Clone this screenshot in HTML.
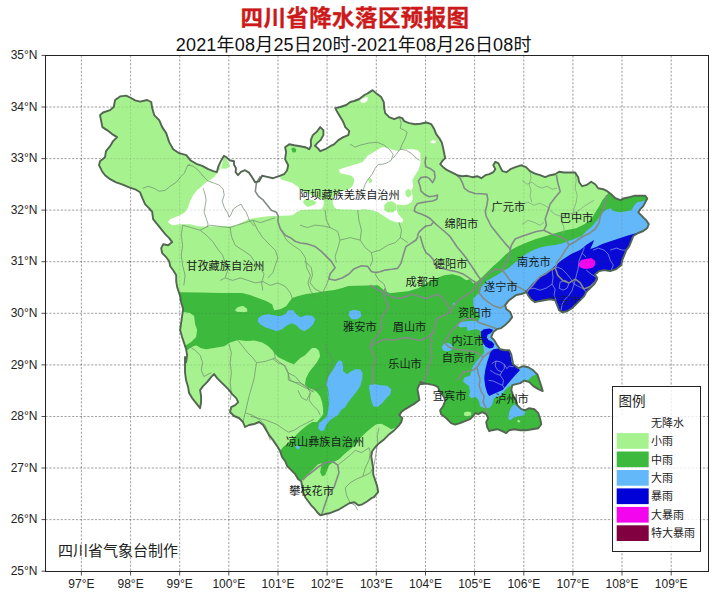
<!DOCTYPE html>
<html lang="zh"><head><meta charset="utf-8"><title>四川省降水落区预报图</title>
<style>
html,body{margin:0;padding:0;background:#fff}
body{width:718px;height:610px;position:relative;overflow:hidden;font-family:"Liberation Sans","Noto Sans CJK SC",sans-serif}
.t1{position:absolute;left:0;top:4.8px;width:710px;text-align:center;font-size:22.5px;line-height:28px;font-weight:bold;color:#cc1a1a;-webkit-text-stroke:0.35px #cc1a1a;letter-spacing:0.4px;white-space:nowrap}
.t2{position:absolute;left:0;top:32.8px;width:707.5px;text-align:center;font-size:18px;line-height:24px;color:#111;letter-spacing:0.2px;white-space:nowrap}
</style></head><body>
<svg width="718" height="610" viewBox="0 0 718 610" style="position:absolute;left:0;top:0">
<defs><clipPath id="prov"><path d="M115.1,100 L120.1,96.4 L126.1,95.6 L131.1,98 L135.1,100.4 L140.1,101.6 L147.2,100 L151.2,102 L152.2,108.1 L154.2,115.1 L159.2,120.1 L162.2,127.1 L166.2,133.1 L169.2,142.1 L173.2,149.2 L179.2,153.2 L186.3,155.2 L190.3,160.2 L196.3,163.8 L202.3,165.8 L208.3,169.2 L213.3,171.2 L216.8,172.2 L218.4,166.2 L221.4,160.2 L224,155.8 L226.4,157.2 L229.4,160.2 L234,161.2 L234,164.6 L236,168.2 L235.6,172.2 L238,175.2 L241,171.8 L245,170.2 L249,172.6 L252.1,177.2 L255.1,182.3 L259.1,181.3 L262.1,175.8 L266.1,176.6 L273.1,178.2 L279.1,176.2 L284.1,174.2 L287.1,170.2 L288.2,165.2 L285.1,159.2 L286.1,152.2 L285.1,147.2 L289.2,144.2 L294.2,145.2 L300.2,146.2 L305.2,147.2 L309.2,149.2 L311,145.8 L310.8,140.1 L312.8,135.1 L316.8,131.7 L320.2,127.1 L323.4,130.1 L323.4,135.1 L320.6,140.1 L317.2,143.1 L315,145.8 L318.2,148.6 L320.2,151.2 L325.3,149.2 L330.3,146.2 L334.3,144.2 L338.3,140.1 L343.3,137.1 L348.3,135.1 L349.3,131.1 L345.3,127.1 L343.3,122.1 L340.3,117.1 L337.3,112.1 L335.3,108.1 L340.3,107 L346.3,105 L350.3,102 L354.3,101 L359.3,99 L364.4,95 L368.4,93 L368.1,93.1 L372.5,90.1 L377.2,94.1 L381.2,97.1 L383.8,102.1 L384.2,108.1 L385.2,113.1 L389.2,117.1 L394.2,119.1 L399.2,117.1 L402.2,118.1 L404.2,121.1 L409.2,123.1 L415.3,124.2 L420.3,123.7 L426.3,122.5 L431.3,124.2 L434.2,129.1 L436.2,134.1 L439.2,138.1 L441.8,142.5 L443.2,148.2 L444.2,153.2 L445.2,158.2 L442.2,161.2 L440.2,164.2 L443.2,167.2 L447.2,170.2 L452.2,172.6 L457.2,175.2 L462.2,176.2 L467.2,175.8 L472.3,177.2 L477.3,176.2 L481.3,178.2 L485.3,175.2 L489.3,174.2 L493.3,172.2 L495.3,169.2 L493.3,165.2 L495.3,161.8 L498.3,163.2 L500.3,167.2 L502.3,171.2 L506.4,172.2 L510.4,169.2 L515.4,167.2 L519.4,165.8 L522,165.2 L522,165.7 L526,167.1 L530,171.1 L535,173.7 L540.1,175.2 L545.1,177.2 L550.1,175.2 L555.1,174.2 L559.1,171.7 L564.1,172.5 L570.1,172.5 L575.1,172.5 L578.2,177.2 L579.2,182.2 L582.2,186.2 L586.2,185.2 L591.2,181.8 L595.2,184.2 L598.2,188.2 L603.2,189.2 L607.2,191.2 L611.2,194.2 L615.3,198.2 L620.3,200.2 L624.3,198.2 L629.3,197.2 L634.3,195.8 L640.3,195.8 L645.3,195.8 L647.3,198.6 L645.3,202.2 L643.3,206.2 L640.3,209.2 L638.3,212.3 L642.3,216.3 L646.3,220.3 L648.8,224.3 L648.8,224 L647.3,228 L643.3,231 L638.3,233 L633.3,236 L631.3,241.1 L629.3,246.1 L626.3,250.1 L624.3,255.1 L622.3,260.1 L621.3,265.1 L616.3,269.1 L610.2,271.1 L604.2,270.1 L599.2,271.1 L595.2,274.2 L597.2,279.2 L594.2,284.2 L590.2,288.2 L586.2,292.2 L584.2,296.2 L580.2,300.2 L576.2,304.2 L572.1,308.2 L567.1,311.3 L562.1,312.3 L559.1,310.3 L557.1,305.2 L555.1,300.2 L550.1,299.2 L544.1,300.2 L539,301.2 L535,302.2 L531,299.2 L528,295.2 L526,291.2 L526.3,292.4 L521.3,294 L516.2,295 L512.2,298.1 L508.2,301.1 L505.2,305.1 L506.2,309.1 L510.2,312.1 L512.2,317.1 L509.2,321.1 L505.2,325.1 L501.2,328.1 L497.2,329.1 L493.2,332.1 L491.2,337.2 L494.2,340.2 L497.2,345.2 L500.2,349.2 L505.2,350.2 L509.2,350.2 L511.2,354.2 L512.2,359.2 L513.2,364.2 L518.2,368.2 L523.3,366.2 L528.3,367.2 L533.3,370.3 L537.3,374.3 L537.3,374.1 L539.3,380.1 L541.3,386.1 L542.7,391.1 L538.3,389.1 L533.3,386.1 L529.3,382.1 L524.3,380.5 L520.3,383.1 L516.3,384.1 L512.3,385.1 L511.3,390.1 L513.3,396.1 L516.3,401.1 L517.3,405.2 L521.3,409.2 L525.3,410.2 L529.3,408.2 L534.3,409.2 L538.3,413.2 L540.3,419.2 L541.3,424.2 L538.3,428.2 L532.3,429.2 L526.3,430.2 L520.3,430.2 L514.3,429.2 L509.2,430.2 L506.2,433.2 L502.2,431.2 L497.2,429.2 L492.2,430.2 L489.2,431.2 L487.2,427.2 L486.2,422.2 L488.2,418.2 L486.2,414.2 L482.2,412.2 L478.2,414.2 L475.2,413.2 L473.1,416.2 L470.1,419.2 L465.1,421.2 L460.1,423.2 L455.1,424.6 L451.1,423.2 L448.1,420.2 L445.1,417.2 L441.1,414.2 L440.1,410.2 L443.1,406.2 L445.1,401.1 L444.1,397.1 L441.1,393.1 L439.1,390.1 L438.1,387.1 L434,385.1 L429,384.1 L424,383.1 L420,382.1 L426.4,383.6 L419.4,384.4 L417.4,389.1 L418.4,394.1 L419.4,400.1 L415.3,403.1 L410.3,406.1 L405.3,409.1 L401.3,412.1 L399.3,415.1 L402.3,418.1 L401.3,422.1 L398.3,426.2 L394.3,430.2 L389.3,434.2 L384.3,439.2 L379.2,443.2 L375.2,447.2 L372.2,451.2 L371.2,456.2 L372.2,462.3 L373.2,468.3 L373.2,474.3 L375.2,480.3 L377.2,486.3 L378.2,491.9 L374,497.2 L371.4,498.2 L367.4,501.3 L362.4,504.3 L358.4,505.3 L354.3,502.3 L349.3,503.3 L344.3,506.3 L339.3,509.3 L334.3,511.3 L329.3,513.3 L324.3,514.3 L320.3,515.3 L317.2,512.3 L314.2,508.3 L311.2,505.3 L308.2,501.3 L305.2,497.2 L303.2,492.2 L302.2,486.2 L301.2,481.2 L298.2,479.2 L295.2,474.2 L291.2,470.2 L287.2,466.2 L285.2,461.1 L282.1,457.1 L280.1,451.1 L277.1,446.1 L273.1,440.1 L269.1,435.1 L266.1,430.1 L263.1,425 L259.1,422 L254.1,424 L249.1,425 L245,427 L243,422 L239,418 L234,416 L230,412 L231.2,407.2 L235.2,405.2 L238.2,402.1 L236.2,398.1 L232.2,394.1 L229.2,390.1 L225.2,386.1 L221.1,382.1 L217.1,378.1 L214.1,374.1 L211.1,377.1 L207.1,382.1 L203.1,386.1 L200.1,390.1 L201.1,396.1 L201.1,402.1 L200.1,408.2 L196.1,403.1 L192.1,398.1 L189.1,393.1 L188.1,387.1 L186,380.1 L185,372.1 L185,364 L185,357 L186.1,362.2 L187.1,355.2 L186.1,349.2 L184.1,343.1 L182.1,337.1 L180.1,330.1 L181.1,323.1 L182.1,316.1 L183.1,309.1 L181.1,302 L180.1,296 L178.1,290 L177.2,287.3 L176.2,281.3 L176.2,275.2 L173.2,270.2 L170.2,266.2 L169.2,261.2 L166.2,257.2 L162.2,253.2 L161.2,248.2 L163.2,244.2 L168.2,245.2 L172.2,242.1 L169.2,238.1 L165.2,234.1 L161.2,229.1 L157.2,224.1 L153.1,219.1 L152.2,211.9 L149.2,208.3 L145.2,204.3 L142.5,198.3 L140.1,192.3 L135.1,189.3 L129.1,187.3 L122.1,184.3 L116.1,182.3 L110.1,179.2 L105,175.2 L102,171.2 L99,165.2 L100,161.2 L105,157.2 L106,151.2 L110.1,146.2 L113.1,141.1 L117.1,137.1 L112.1,134.1 L107,130.1 L102.4,127.1 L101,120.1 L100,115.1 L103,112.5 L110.1,110.1 L113.7,107Z"/></clipPath><clipPath id="ax"><rect x="45.5" y="55.5" width="663.0" height="516.0"/></clipPath></defs>
<path d="M81.4,55.5 V571.5 M130.6,55.5 V571.5 M179.7,55.5 V571.5 M228.8,55.5 V571.5 M278.0,55.5 V571.5 M327.1,55.5 V571.5 M376.3,55.5 V571.5 M425.5,55.5 V571.5 M474.6,55.5 V571.5 M523.8,55.5 V571.5 M572.9,55.5 V571.5 M622.0,55.5 V571.5 M671.2,55.5 V571.5 M45.5,519.6 H708.5 M45.5,468.0 H708.5 M45.5,416.5 H708.5 M45.5,364.9 H708.5 M45.5,313.3 H708.5 M45.5,261.7 H708.5 M45.5,210.1 H708.5 M45.5,158.6 H708.5 M45.5,107.0 H708.5" fill="none" stroke="#555" stroke-opacity="0.62" stroke-width="0.7" stroke-dasharray="2.2,1.6"/>
<path d="M115.1,100 L120.1,96.4 L126.1,95.6 L131.1,98 L135.1,100.4 L140.1,101.6 L147.2,100 L151.2,102 L152.2,108.1 L154.2,115.1 L159.2,120.1 L162.2,127.1 L166.2,133.1 L169.2,142.1 L173.2,149.2 L179.2,153.2 L186.3,155.2 L190.3,160.2 L196.3,163.8 L202.3,165.8 L208.3,169.2 L213.3,171.2 L216.8,172.2 L218.4,166.2 L221.4,160.2 L224,155.8 L226.4,157.2 L229.4,160.2 L234,161.2 L234,164.6 L236,168.2 L235.6,172.2 L238,175.2 L241,171.8 L245,170.2 L249,172.6 L252.1,177.2 L255.1,182.3 L259.1,181.3 L262.1,175.8 L266.1,176.6 L273.1,178.2 L279.1,176.2 L284.1,174.2 L287.1,170.2 L288.2,165.2 L285.1,159.2 L286.1,152.2 L285.1,147.2 L289.2,144.2 L294.2,145.2 L300.2,146.2 L305.2,147.2 L309.2,149.2 L311,145.8 L310.8,140.1 L312.8,135.1 L316.8,131.7 L320.2,127.1 L323.4,130.1 L323.4,135.1 L320.6,140.1 L317.2,143.1 L315,145.8 L318.2,148.6 L320.2,151.2 L325.3,149.2 L330.3,146.2 L334.3,144.2 L338.3,140.1 L343.3,137.1 L348.3,135.1 L349.3,131.1 L345.3,127.1 L343.3,122.1 L340.3,117.1 L337.3,112.1 L335.3,108.1 L340.3,107 L346.3,105 L350.3,102 L354.3,101 L359.3,99 L364.4,95 L368.4,93 L368.1,93.1 L372.5,90.1 L377.2,94.1 L381.2,97.1 L383.8,102.1 L384.2,108.1 L385.2,113.1 L389.2,117.1 L394.2,119.1 L399.2,117.1 L402.2,118.1 L404.2,121.1 L409.2,123.1 L415.3,124.2 L420.3,123.7 L426.3,122.5 L431.3,124.2 L434.2,129.1 L436.2,134.1 L439.2,138.1 L441.8,142.5 L443.2,148.2 L444.2,153.2 L445.2,158.2 L442.2,161.2 L440.2,164.2 L443.2,167.2 L447.2,170.2 L452.2,172.6 L457.2,175.2 L462.2,176.2 L467.2,175.8 L472.3,177.2 L477.3,176.2 L481.3,178.2 L485.3,175.2 L489.3,174.2 L493.3,172.2 L495.3,169.2 L493.3,165.2 L495.3,161.8 L498.3,163.2 L500.3,167.2 L502.3,171.2 L506.4,172.2 L510.4,169.2 L515.4,167.2 L519.4,165.8 L522,165.2 L522,165.7 L526,167.1 L530,171.1 L535,173.7 L540.1,175.2 L545.1,177.2 L550.1,175.2 L555.1,174.2 L559.1,171.7 L564.1,172.5 L570.1,172.5 L575.1,172.5 L578.2,177.2 L579.2,182.2 L582.2,186.2 L586.2,185.2 L591.2,181.8 L595.2,184.2 L598.2,188.2 L603.2,189.2 L607.2,191.2 L611.2,194.2 L615.3,198.2 L620.3,200.2 L624.3,198.2 L629.3,197.2 L634.3,195.8 L640.3,195.8 L645.3,195.8 L647.3,198.6 L645.3,202.2 L643.3,206.2 L640.3,209.2 L638.3,212.3 L642.3,216.3 L646.3,220.3 L648.8,224.3 L648.8,224 L647.3,228 L643.3,231 L638.3,233 L633.3,236 L631.3,241.1 L629.3,246.1 L626.3,250.1 L624.3,255.1 L622.3,260.1 L621.3,265.1 L616.3,269.1 L610.2,271.1 L604.2,270.1 L599.2,271.1 L595.2,274.2 L597.2,279.2 L594.2,284.2 L590.2,288.2 L586.2,292.2 L584.2,296.2 L580.2,300.2 L576.2,304.2 L572.1,308.2 L567.1,311.3 L562.1,312.3 L559.1,310.3 L557.1,305.2 L555.1,300.2 L550.1,299.2 L544.1,300.2 L539,301.2 L535,302.2 L531,299.2 L528,295.2 L526,291.2 L526.3,292.4 L521.3,294 L516.2,295 L512.2,298.1 L508.2,301.1 L505.2,305.1 L506.2,309.1 L510.2,312.1 L512.2,317.1 L509.2,321.1 L505.2,325.1 L501.2,328.1 L497.2,329.1 L493.2,332.1 L491.2,337.2 L494.2,340.2 L497.2,345.2 L500.2,349.2 L505.2,350.2 L509.2,350.2 L511.2,354.2 L512.2,359.2 L513.2,364.2 L518.2,368.2 L523.3,366.2 L528.3,367.2 L533.3,370.3 L537.3,374.3 L537.3,374.1 L539.3,380.1 L541.3,386.1 L542.7,391.1 L538.3,389.1 L533.3,386.1 L529.3,382.1 L524.3,380.5 L520.3,383.1 L516.3,384.1 L512.3,385.1 L511.3,390.1 L513.3,396.1 L516.3,401.1 L517.3,405.2 L521.3,409.2 L525.3,410.2 L529.3,408.2 L534.3,409.2 L538.3,413.2 L540.3,419.2 L541.3,424.2 L538.3,428.2 L532.3,429.2 L526.3,430.2 L520.3,430.2 L514.3,429.2 L509.2,430.2 L506.2,433.2 L502.2,431.2 L497.2,429.2 L492.2,430.2 L489.2,431.2 L487.2,427.2 L486.2,422.2 L488.2,418.2 L486.2,414.2 L482.2,412.2 L478.2,414.2 L475.2,413.2 L473.1,416.2 L470.1,419.2 L465.1,421.2 L460.1,423.2 L455.1,424.6 L451.1,423.2 L448.1,420.2 L445.1,417.2 L441.1,414.2 L440.1,410.2 L443.1,406.2 L445.1,401.1 L444.1,397.1 L441.1,393.1 L439.1,390.1 L438.1,387.1 L434,385.1 L429,384.1 L424,383.1 L420,382.1 L426.4,383.6 L419.4,384.4 L417.4,389.1 L418.4,394.1 L419.4,400.1 L415.3,403.1 L410.3,406.1 L405.3,409.1 L401.3,412.1 L399.3,415.1 L402.3,418.1 L401.3,422.1 L398.3,426.2 L394.3,430.2 L389.3,434.2 L384.3,439.2 L379.2,443.2 L375.2,447.2 L372.2,451.2 L371.2,456.2 L372.2,462.3 L373.2,468.3 L373.2,474.3 L375.2,480.3 L377.2,486.3 L378.2,491.9 L374,497.2 L371.4,498.2 L367.4,501.3 L362.4,504.3 L358.4,505.3 L354.3,502.3 L349.3,503.3 L344.3,506.3 L339.3,509.3 L334.3,511.3 L329.3,513.3 L324.3,514.3 L320.3,515.3 L317.2,512.3 L314.2,508.3 L311.2,505.3 L308.2,501.3 L305.2,497.2 L303.2,492.2 L302.2,486.2 L301.2,481.2 L298.2,479.2 L295.2,474.2 L291.2,470.2 L287.2,466.2 L285.2,461.1 L282.1,457.1 L280.1,451.1 L277.1,446.1 L273.1,440.1 L269.1,435.1 L266.1,430.1 L263.1,425 L259.1,422 L254.1,424 L249.1,425 L245,427 L243,422 L239,418 L234,416 L230,412 L231.2,407.2 L235.2,405.2 L238.2,402.1 L236.2,398.1 L232.2,394.1 L229.2,390.1 L225.2,386.1 L221.1,382.1 L217.1,378.1 L214.1,374.1 L211.1,377.1 L207.1,382.1 L203.1,386.1 L200.1,390.1 L201.1,396.1 L201.1,402.1 L200.1,408.2 L196.1,403.1 L192.1,398.1 L189.1,393.1 L188.1,387.1 L186,380.1 L185,372.1 L185,364 L185,357 L186.1,362.2 L187.1,355.2 L186.1,349.2 L184.1,343.1 L182.1,337.1 L180.1,330.1 L181.1,323.1 L182.1,316.1 L183.1,309.1 L181.1,302 L180.1,296 L178.1,290 L177.2,287.3 L176.2,281.3 L176.2,275.2 L173.2,270.2 L170.2,266.2 L169.2,261.2 L166.2,257.2 L162.2,253.2 L161.2,248.2 L163.2,244.2 L168.2,245.2 L172.2,242.1 L169.2,238.1 L165.2,234.1 L161.2,229.1 L157.2,224.1 L153.1,219.1 L152.2,211.9 L149.2,208.3 L145.2,204.3 L142.5,198.3 L140.1,192.3 L135.1,189.3 L129.1,187.3 L122.1,184.3 L116.1,182.3 L110.1,179.2 L105,175.2 L102,171.2 L99,165.2 L100,161.2 L105,157.2 L106,151.2 L110.1,146.2 L113.1,141.1 L117.1,137.1 L112.1,134.1 L107,130.1 L102.4,127.1 L101,120.1 L100,115.1 L103,112.5 L110.1,110.1 L113.7,107Z" fill="#a6f28e"/>
<g clip-path="url(#prov)">
<path d="M168,222.2 L170,219.2 L175,217.2 L180.1,215.2 L185.1,212.2 L188.1,207.2 L190.1,201.2 L193.1,195.2 L197.1,190.1 L201.1,187.1 L205.1,183.1 L210.1,180.1 L214.2,177.1 L217.2,173.1 L220.2,169.1 L222,150 L282,150 L280.3,179.1 L286.4,181.1 L292.4,183.1 L298.4,187.1 L300.1,190.1 L311.3,195.1 L323.2,200.1 L323.9,202.6 L323.2,206.4 L321.4,209.5 L311.3,209.5 L301.3,210.1 L297.5,211.4 L292.4,215.2 L284.3,215.8 L276.3,215.8 L268.3,216.2 L260.3,217.2 L254.3,218.2 L248.2,219.2 L242.2,222.2 L236.2,225.2 L228.2,226.2 L218.2,226.2 L208.1,226.6 L198.1,226.2 L190.1,224.2 L180.1,224.2 L172,225.2Z" fill="#ffffff"/>
<path d="M338.9,169.4 L345.2,167.5 L351.4,165.6 L357.7,163.8 L362.7,161.9 L367.2,156.1 L372.2,153.1 L377.2,150.1 L382.3,147 L388.3,148.1 L393.3,150.1 L398.3,151.1 L403.3,149.1 L410.3,149.1 L417.4,150.1 L420.4,153.1 L420.4,158.1 L420.4,164.1 L418.4,170.1 L415.3,175.1 L412.3,180.1 L413.3,186.2 L411.3,190.2 L412.7,196.2 L412.3,201.2 L408.3,204.2 L402.3,205.2 L397.3,204.2 L396.3,208.2 L398.3,214.2 L402.9,219.2 L402.9,222.3 L396.3,222.3 L390.3,220.3 L384.3,216.2 L378.2,212.2 L372.2,210.2 L364.2,209.2 L357.7,210.1 L350.2,209.5 L342.7,209.5 L336.4,208.9 L333.9,206.4 L332.6,202.6 L333,197 L340,192 L349.6,188.8 L352.1,186.3 L354,182.6 L354,178.8 L351.4,175.7 L346.4,174.4 L340.2,173.2 L338.9,170Z" fill="#ffffff"/>
<path d="M360.1,100.1 L363.1,98.1 L368.1,97.1 L367.1,101.1 L364.1,103.1 L361.1,102.5Z" fill="#ffffff"/>
<path d="M430.3,141.2 L433.3,140.2 L436.3,141.2 L435.3,143.2 L431.3,143.2Z" fill="#ffffff"/>
<path d="M221.2,168.6 L224.2,154 L230.2,166.1 L226.2,168.8Z" fill="#a6f28e"/>
<path d="M303.8,200.1 L306.9,198.9 L312.6,200.1 L316.3,202 L315.1,204.5 L311.3,205.8 L307.6,207 L305.1,205.1 L303.2,202.6Z" fill="#a6f28e"/>
<path d="M368.2,179.1 L370.2,177.7 L372.2,179.7 L371.8,182.5 L369.2,183.1Z" fill="#a6f28e"/>
<path d="M405.3,191.2 L408.3,188.8 L411.3,191.2 L411.3,195.2 L408.3,197.6 L405.7,195.8Z" fill="#a6f28e"/>
<path d="M384.3,205.2 L387.3,201.8 L392.3,201.2 L396.3,204.2 L396.3,209.2 L393.3,212.6 L387.3,212.6 L384.3,209.8Z" fill="#a6f28e"/>
<path d="M165,292.3 L179.2,292.3 L200,292.6 L220,293 L234,293.1 L242,293.1 L250,295.1 L258.1,298.1 L266.1,301.1 L272.1,304.2 L274.1,310.2 L280.1,309.2 L286.1,306.2 L289.2,302.1 L292.2,298.1 L298.2,296.1 L306.2,294.1 L314.2,293.1 L326.3,291.1 L334.3,290.1 L342.3,288.1 L348.3,286.1 L356.3,285.7 L378,285.2 L384,290.2 L390,293.2 L398.1,292.2 L408.1,291.2 L418.1,288.2 L428.1,282.2 L436.2,278.2 L444.2,275.2 L452.2,274.2 L460.2,276.2 L466.2,280.2 L470,279.3 L473.3,283.5 L477.5,281 L482.5,276.8 L487.5,271.8 L493.4,265.9 L499.2,260.9 L505.1,255.1 L510.9,250.1 L518.5,245.9 L526.8,242.5 L535.2,239.2 L543.5,236.7 L551.9,234.2 L560.3,231.7 L566.9,230 L576.2,228.3 L584.2,224.3 L590.2,220.3 L594.2,214.3 L599.2,206.2 L602.2,200.2 L608.2,193.2 L610,185 L700,150 L700,480 L405,480 L403,430 L401.3,422.1 L396.3,427.2 L391.3,429.2 L386.3,426.2 L381.3,423.8 L376.2,424.2 L372.2,427.2 L366.2,432.2 L361.2,437.2 L356.2,444.2 L350.2,449.2 L344.2,454.2 L339.1,459.2 L333.1,462.3 L329.1,465.3 L327.1,470.3 L325.1,475.3 L322.1,476.3 L320.1,472.3 L321.1,467.3 L322.1,463.3 L318.1,464.3 L314.1,468.3 L310.1,472.3 L305,477.3 L301,481.3 L298,482.3 L290,480 L270,455 L280.1,451.1 L283.1,447.1 L288.2,443.1 L294.2,437.1 L300.2,431.1 L306.2,426 L312.2,422 L317,421.9 L320.1,418.3 L323.1,414.3 L323.1,408.3 L322.1,402.3 L320.1,396.3 L317,392.3 L313,389.2 L308,388.2 L305,384.2 L306,378.2 L309,372.2 L313,367.2 L317,362.2 L320.1,356.2 L319.1,351.1 L316,348.1 L312,348.1 L309,351.1 L305,355.2 L300,358.2 L294,364.2 L288.4,362.2 L282.4,359.2 L278.4,357.2 L275.4,354.2 L272.3,350.2 L268.3,346.2 L262.3,342.5 L254.3,340.5 L246.3,341.1 L238.2,340.1 L230.2,342.5 L224.2,346.2 L218.2,347.2 L212.2,348.2 L206.2,349.2 L201.1,348.2 L196.1,345.2 L191.1,347.2 L187.1,350.2 L165,352Z" fill="#3db93d"/>
<path d="M291.2,148.6 L293.8,147.4 L296.2,149.2 L295.8,152.2 L292.6,152.6Z" fill="#3db93d"/>
<path d="M610.2,214.7 L613.3,213.9 L616.3,214.7 L615.3,216.7 L611.2,216.7Z" fill="#3db93d"/>
<path d="M175,312.1 L183.1,312.1 L190.1,313.1 L194.1,316.1 L195.1,324.1 L197.1,330.1 L196.1,337.1 L191.1,342.1 L186.1,345.2 L175,346Z" fill="#a6f28e"/>
<path d="M235,310.2 L238,307.2 L242,306.2 L246,308.2 L247.6,311.2 L244,312.2 L239,311.8Z" fill="#a6f28e"/>
<path d="M464.1,412.6 L467.1,411.4 L471.1,412.2 L471.1,415.2 L467.1,416.2 L464.1,415.4Z" fill="#a6f28e"/>
<path d="M517.3,420.6 L518.9,419.8 L520.3,421.2 L519.3,422.6 L517.7,422.2Z" fill="#a6f28e"/>
<path d="M235.2,310.1 L238.2,307 L243.3,306 L247.3,309.1 L246.3,312.1 L241.3,311.1 L237.2,312.1Z" fill="#a6f28e"/>
<path d="M642.3,201.2 L637.3,202.2 L634.3,205.2 L631.3,210.3 L626.3,211.3 L620.3,212.3 L614.3,211.3 L610.2,208.2 L605.2,210.3 L601.2,214.3 L597.2,220.3 L592.2,226.3 L586.2,231.3 L582,235.8 L575.3,238.4 L568.6,240.9 L561.9,243.4 L555.2,245 L546.9,245.9 L540.2,247.5 L533.5,250.1 L526.8,253.4 L520.1,258.4 L515.1,262.6 L509.3,267.6 L503.4,270.9 L498.4,274.3 L492.6,277.6 L486.7,281 L481.7,286.8 L478.4,293.5 L473.3,298.5 L473.4,305 L475.9,310.1 L480.1,316.7 L478.4,320.9 L470.1,320.9 L461.7,321.8 L456.7,324.3 L460.1,327.6 L466.7,326.8 L467.6,331 L471.8,330.1 L476.8,329.3 L480.9,331 L483,345 L484.3,352.7 L480.9,356 L477.6,360.2 L473.4,365.2 L471.8,370.2 L470,376 L465,377 L463,381 L466,384 L469,386 L470,392 L469,396 L471,398 L476,397 L479,401 L480,406 L484,408 L489,408 L492,405 L494,398 L501,395.5 L505.2,390.1 L508.2,387.1 L512.3,385.1 L516.3,384.1 L520.3,383.1 L524.3,380.1 L528.3,380.1 L532.3,376.1 L534.4,375.2 L545,370 L700,370 L700,190Z" fill="#63b8f9"/>
<path d="M258.1,318.2 L262.1,315.2 L268.1,314.2 L274.1,315.2 L280.1,316.2 L285.1,314.2 L288.2,310.2 L293.2,310.2 L296.2,314.2 L300.2,317.2 L306.2,315.2 L312.2,315.8 L315.2,319.2 L313.2,324.2 L309.2,328.2 L304.2,331.2 L300.2,329.2 L296.2,325.2 L292.2,323.2 L287.1,325.2 L282.1,329.2 L277.1,331.2 L271.1,329.2 L265.1,327.2 L260.1,324.2 L257.7,321.2Z" fill="#63b8f9"/>
<path d="M349.3,311.2 L354.3,309.8 L360.4,311.2 L361.4,316.2 L357.3,319.2 L351.3,319.2 L348.7,315.2Z" fill="#63b8f9"/>
<path d="M339.1,360.2 L342.1,361.2 L343.1,366.2 L343.1,371.2 L347.1,374.2 L351.1,371.2 L355.2,369.2 L360.2,369.2 L362.6,373.2 L362.2,379.2 L360.2,386.2 L356.2,392.3 L352.1,397.3 L348.1,402.3 L345.1,407.3 L341.1,410.1 L338.1,415.1 L333.1,418.1 L329.1,421.1 L326.1,425.2 L324.1,430.2 L321.1,431.2 L318.1,428.2 L319.1,423.1 L323.1,420.1 L327.1,416.1 L328.1,410.1 L329.1,404.1 L328.1,398.1 L327.1,392.1 L326.1,386 L330.1,403.3 L329.1,396.3 L328.1,389.2 L326.1,383.2 L328.1,377.2 L332.1,371.2 L335.1,366.2 L337.1,362.2Z" fill="#63b8f9"/>
<path d="M369.2,385.2 L373.2,383.8 L380.2,385.2 L387.2,385.8 L391.3,389.2 L390.3,394.3 L386.2,398.3 L382.2,403.3 L377.2,407.3 L373.2,406.3 L371.2,400.3 L370.2,394.3 L369.2,389.2Z" fill="#63b8f9"/>
<path d="M295,446.2 L299,445.8 L300,448.2 L297,449.2Z" fill="#63b8f9"/>
<path d="M441.7,346.8 L444.2,343.8 L448.4,343.1 L451.7,344.8 L453,347.7 L450.9,350.5 L446.7,351.5 L443,350.2Z" fill="#63b8f9"/>
<path d="M452.5,303.4 L455,302.5 L455.9,305 L453.4,305.9Z" fill="#63b8f9"/>
<path d="M508.2,419.2 L509.2,412.2 L511.3,407.2 L514.3,404.2 L518.3,407.2 L522.3,410.2 L525.3,412.2 L524.3,415.2 L518.3,416.2 L513.3,417.8 L510.3,420.2Z" fill="#63b8f9"/>
<path d="M488.1,342.1 L490.1,341.5 L491.5,343.8 L490.1,345.5 L488.1,344.5Z" fill="#63b8f9"/>
<path d="M526,291 L530.2,286 L534.3,281.8 L538.5,278.5 L543.5,274.3 L547.7,271.8 L551.9,268.4 L556.9,264.3 L561.9,260.1 L566.9,256.7 L572.1,253.4 L580.2,250.1 L586.2,245.1 L591.2,241.7 L594.2,240.1 L592.2,245.1 L590.2,249.1 L596.2,247.1 L602.2,244.1 L608.2,242.1 L614.3,240.1 L620.3,238.1 L626.3,236 L631.3,234.4 L640,232 L660,240 L660,330 L520,330Z" fill="#0a0ad6"/>
<path d="M490.1,351.8 L493.5,349.3 L498.5,348.5 L503.5,348.8 L508.5,349.3 L510.2,353.5 L511,358.5 L511.9,363.5 L515.2,366 L518.6,368.6 L519.9,370.2 L515.2,375.2 L510.2,381.1 L505.2,386.9 L502.7,389.9 L491.2,395.1 L489.2,396.1 L487.2,393.1 L485.2,386.1 L484.2,378.1 L485.2,370.1 L487.2,362 L489.2,356Z" fill="#0a0ad6"/>
<path d="M480.9,331.8 L483.8,329.3 L489.3,328.4 L493.1,329.8 L491,333.1 L487.6,334.8 L486.8,337.6 L488.5,340.1 L491.8,341.5 L494.3,344.3 L493.1,347.7 L489.3,348.5 L485.5,346.5 L482.8,342.6 L481.1,337.6Z" fill="#0a0ad6"/>
<path d="M579.2,263.1 L581.2,260.1 L586.2,259.1 L591.2,258.1 L595.2,261.1 L595.2,265.1 L592.2,268.1 L586.2,269.1 L581.2,268.1 L578.6,265.7Z" fill="#f305ee"/>
</g>
<path d="M142.5,188.3 L148.2,186.3 L154.2,188.3 L159.2,191.3 L165.2,190.3 L170.2,186.3 L176.2,182.3 L181.3,176.2 L184.3,173.2 L187.3,166.2 L190.3,164.2" fill="none" stroke="#6f8a6f" stroke-width="0.7" stroke-linejoin="round"/>
<path d="M187.1,165.1 L193.1,166.1 L198.1,170.1 L203.1,176.1 L208.1,181.1 L214.2,183.1 L219.2,185.1 L223.2,189.1 L224.2,195.2 L222.2,201.2 L224.2,207.2 L227.2,212.2 L229.2,217.2 L231.2,214.2 L233.2,209.2 L237.2,206.2 L241.2,204.2 L243.2,208.2 L246.2,212.2 L248.2,217.2 L249.2,220.2 L254.3,226.2" fill="none" stroke="#6f8a6f" stroke-width="0.7" stroke-linejoin="round"/>
<path d="M203.1,188.1 L205.1,194.2 L206.1,200.2 L205.1,206.2 L204.1,212.2 L206.1,218.2 L208.1,224.2 L207.1,227.2" fill="none" stroke="#6f8a6f" stroke-width="0.7" stroke-linejoin="round"/>
<path d="M182.6,225.2 L191.4,227.7 L200.1,230.2 L206.4,235.2 L212.7,241.5 L217.7,249 L222.7,255.3 L225.2,262.8 L227.7,270.3 L225.2,277.9 L220.2,280.4" fill="none" stroke="#6f8a6f" stroke-width="0.7" stroke-linejoin="round"/>
<path d="M200.1,230.2 L210.2,225.2 L220.2,226.5 L230.2,227.7 L236.5,225.2 L245.3,222.7 L252.8,220.2 L260.3,222.7 L267.8,220.2 L275.3,217.7" fill="none" stroke="#6f8a6f" stroke-width="0.7" stroke-linejoin="round"/>
<path d="M230.2,227.7 L231.5,236.5 L235.2,245.3 L242.8,250.3 L250.3,255.3 L255.3,262.8 L260.3,267.8 L264.1,274.1 L261.6,282.9 L262.8,290.4" fill="none" stroke="#6f8a6f" stroke-width="0.7" stroke-linejoin="round"/>
<path d="M252.8,220.2 L257.8,230.2 L262.8,237.7 L270.3,245.3 L275.3,250.3 L277.9,257.8 L275.3,265.3 L272.8,272.8 L267.8,277.9" fill="none" stroke="#6f8a6f" stroke-width="0.7" stroke-linejoin="round"/>
<path d="M280.4,229 L286.6,240.3 L292.9,245.3 L300.4,250.3 L305.4,257.8 L306.7,267.8 L310.4,275.3 L307.9,282.9 L310.4,290.4 L315.5,297.9" fill="none" stroke="#6f8a6f" stroke-width="0.7" stroke-linejoin="round"/>
<path d="M182.6,225.2 L181.3,235.2 L182.6,245.3 L181.3,255.3 L182.6,265.3 L185.1,275.3 L183.8,285.4" fill="none" stroke="#6f8a6f" stroke-width="0.7" stroke-linejoin="round"/>
<path d="M225.2,277.9 L232.7,280.4 L240.3,277.9 L247.8,280.4 L255.3,282.9 L262.8,281.6 L270.3,285.4 L277.9,282.9 L285.4,286.6 L290.4,292.9 L292.9,300.4" fill="none" stroke="#6f8a6f" stroke-width="0.7" stroke-linejoin="round"/>
<path d="M350.1,144.2 L355.1,147.2 L360.1,145.2 L368.1,143.2 L377.2,142.2 L384.2,145.2 L389.2,149.2 L393.2,154.2 L391.2,160.3 L386.2,163.3 L382.2,164.3 L378.2,164.3 L375.2,168.3 L372.1,174.3 L368.1,179.3 L365.1,184.3 L363.1,190.3" fill="none" stroke="#6f8a6f" stroke-width="0.7" stroke-linejoin="round"/>
<path d="M399.2,117.1 L401.2,123.1 L400.2,128.2 L404.2,130.2 L407.2,132.2 L405.2,138.2 L402.2,144.2 L400.2,149.2 L396.2,154.2 L393.2,158.2" fill="none" stroke="#6f8a6f" stroke-width="0.7" stroke-linejoin="round"/>
<path d="M400.2,149.2 L406.2,150.2 L412.3,154.2 L416.3,158.2 L419.3,160.3" fill="none" stroke="#6f8a6f" stroke-width="0.7" stroke-linejoin="round"/>
<path d="M345.2,487.8 L350.2,482.8 L356.5,479 L362.8,476.5 L370.3,472.8 L374,465.2 L375.3,457.7 L376.5,450.2 L377.8,442.7 L377.3,435.2 L379.1,427.6" fill="none" stroke="#6f8a6f" stroke-width="0.7" stroke-linejoin="round"/>
<path d="M345.2,487.8 L346.5,495.3 L350.2,502.8 L355.2,505.3 L357.7,510.4" fill="none" stroke="#6f8a6f" stroke-width="0.7" stroke-linejoin="round"/>
<path d="M362.8,476.5 L365.3,467.7 L369,460.2 L370.3,452.7 L369,447.7" fill="none" stroke="#6f8a6f" stroke-width="0.7" stroke-linejoin="round"/>
<path d="M337.7,465.2 L344,460.2 L350.2,455.2 L355.2,450.2 L361.5,452.7 L369,447.7" fill="none" stroke="#6f8a6f" stroke-width="0.7" stroke-linejoin="round"/>
<path d="M228.9,343.9 L231.4,352.7 L230.2,362.7 L231.4,372.7 L230.2,382.8 L231.4,392.8 L230.2,400.3" fill="none" stroke="#6f8a6f" stroke-width="0.7" stroke-linejoin="round"/>
<path d="M188.8,346.4 L195.1,350.2 L200.1,355.2 L202.6,362.7 L201.3,370.2 L203.8,376.5 L211.4,372.7" fill="none" stroke="#6f8a6f" stroke-width="0.7" stroke-linejoin="round"/>
<path d="M237.7,340.1 L242.7,346.4 L247.7,352.7 L252.7,357.7 L256.5,362.7" fill="none" stroke="#6f8a6f" stroke-width="0.7" stroke-linejoin="round"/>
<path d="M287.8,372.7 L295.3,376.5 L300.4,382.8 L306.6,386.5 L310.4,392.8 L309.1,400.3 L312.9,405.3 L317.9,410.3 L320.4,415.3" fill="none" stroke="#6f8a6f" stroke-width="0.7" stroke-linejoin="round"/>
<path d="M297.9,390.3 L301.6,397.8 L306.6,400.3 L310.4,392.8" fill="none" stroke="#6f8a6f" stroke-width="0.7" stroke-linejoin="round"/>
<path d="M274,351.4 L275.3,357.7 L272.8,358.9" fill="none" stroke="#6f8a6f" stroke-width="0.7" stroke-linejoin="round"/>
<path d="M245.2,412.8 L252.7,415.3 L260.3,420.4 L265.3,425.4 L267.8,432.9 L270.3,440.4" fill="none" stroke="#6f8a6f" stroke-width="0.7" stroke-linejoin="round"/>
<path d="M242.7,422.9 L245.2,412.8 L249,396.5 L254,379 L256.5,362.7 L265.3,361.4 L272.8,358.9 L277.8,362.7 L284.1,365.2 L287.8,372.7 L290.3,380.2 L297.9,384 L305.4,387.8 L311.6,390.3 L317.9,389 L322.9,386.5 L326.7,382.8 L327.9,375.2 L330.4,367.7 L332.9,361.4 L330.4,355.2 L326.7,350.2 L325.4,343.9" fill="none" stroke="#6f8a6f" stroke-width="0.7" stroke-linejoin="round"/>
<path d="M325.1,210 L326.3,220.1 L330.1,227.6 L337.6,231.3 L340.1,240.1 L337.6,248.9 L335.1,256.4 L336.4,262.7" fill="none" stroke="#6f8a6f" stroke-width="0.7" stroke-linejoin="round"/>
<path d="M357.7,210 L358.9,220.1 L361.4,230.1 L360.2,240.1 L365.2,247.6 L371.4,252.6 L372.7,260.2 L370.2,266.4" fill="none" stroke="#6f8a6f" stroke-width="0.7" stroke-linejoin="round"/>
<path d="M340.1,240.1 L350.1,237.6 L360.2,240.1" fill="none" stroke="#6f8a6f" stroke-width="0.7" stroke-linejoin="round"/>
<path d="M300,225.1 L307.5,227.6 L315,225.1 L325.1,226.3 L330.1,227.6" fill="none" stroke="#6f8a6f" stroke-width="0.7" stroke-linejoin="round"/>
<path d="M371.4,252.6 L380.2,250.1 L387.7,245.1 L395.3,242.6 L400.3,237.6 L401.5,230.1 L399,222.6" fill="none" stroke="#6f8a6f" stroke-width="0.7" stroke-linejoin="round"/>
<path d="M400.3,237.6 L407.8,242.6" fill="none" stroke="#6f8a6f" stroke-width="0.7" stroke-linejoin="round"/>
<path d="M305,261.4 L311.3,267.7 L312.5,275.2 L310,282.7 L315,289 L322.6,292.8 L326.3,285.2 L328.8,279" fill="none" stroke="#6f8a6f" stroke-width="0.7" stroke-linejoin="round"/>
<path d="M375.2,274 L379,280.2 L384,284 L386.5,291.5" fill="none" stroke="#6f8a6f" stroke-width="0.7" stroke-linejoin="round"/>
<path d="M250.2,416.2 L258.2,418.2 L266.3,420.2 L276.3,424.2 L282.3,428.2 L288.3,432.2 L294.3,430.2 L300.4,426.2 L306.4,423.2 L314,419.2" fill="none" stroke="#6f8a6f" stroke-width="0.7" stroke-linejoin="round"/>
<path d="M274.3,358 L279.3,362 L285.3,366 L288.3,373.1 L288.3,380.1 L294.3,382.1 L300.4,383.1 L306.4,387.1 L311.4,391.1 L314,392.1" fill="none" stroke="#6f8a6f" stroke-width="0.7" stroke-linejoin="round"/>
<path d="M575.1,173.1 L576.2,180.2 L575.1,188.2 L577.2,195.2 L576.2,202.2 L574.1,208.2 L573.1,213.3" fill="none" stroke="#86a886" stroke-width="0.8" stroke-linejoin="round"/>
<path d="M522,180.2 L527,184.2 L532,182.2 L537,186.2 L542.1,188.2 L547.1,186.2 L552.1,189.2 L557.1,188.2" fill="none" stroke="#86a886" stroke-width="0.8" stroke-linejoin="round"/>
<path d="M522,204.2 L528,202.2 L534,205.2 L540.1,203.2 L546.1,206.2 L550.1,209.2" fill="none" stroke="#86a886" stroke-width="0.8" stroke-linejoin="round"/>
<path d="M530,171.1 L531,178.2 L529,184.2 L531,190.2 L530,196.2 L532,202.2" fill="none" stroke="#86a886" stroke-width="0.8" stroke-linejoin="round"/>
<path d="M522,224.3 L528,220.3 L534,222.3 L540.1,225.3 L544.1,222.3" fill="none" stroke="#86a886" stroke-width="0.8" stroke-linejoin="round"/>
<path d="M550.1,210.3 L555.1,214.3 L561.1,216.3 L567.1,214.3 L573.1,213.3 L579.2,210.3 L584.2,206.2 L589.2,203.2 L594.2,200.2" fill="none" stroke="#86a886" stroke-width="0.8" stroke-linejoin="round"/>
<path d="M561.1,216.3 L562.1,222.3 L564.1,228.3 L563.1,234.3" fill="none" stroke="#86a886" stroke-width="0.8" stroke-linejoin="round"/>
<path d="M582.2,242.1 L584.2,248.1 L582.2,253.1 L586.2,257.1" fill="none" stroke="#8fa0e8" stroke-width="0.7" stroke-linejoin="round"/>
<path d="M593.2,250.1 L598.2,248.1 L604.2,250.1 L608.2,254.1 L610.2,260.1 L613.3,265.1 L611.2,270.1" fill="none" stroke="#8fa0e8" stroke-width="0.7" stroke-linejoin="round"/>
<path d="M610.2,250.1 L616.3,248.1 L622.3,250.1 L626.3,250.1" fill="none" stroke="#8fa0e8" stroke-width="0.7" stroke-linejoin="round"/>
<path d="M552.1,270.1 L557.1,267.1 L562.1,269.1 L567.1,274.2 L571.1,279.2 L574.1,284.2 L578.2,286.2 L584.2,289.2 L586.2,293.2" fill="none" stroke="#8fa0e8" stroke-width="0.7" stroke-linejoin="round"/>
<path d="M552.1,270.1 L553.1,277.2 L552.1,284.2 L555.1,289.2 L554.1,295.2 L556.1,300.2" fill="none" stroke="#8fa0e8" stroke-width="0.7" stroke-linejoin="round"/>
<path d="M560.1,282.2 L565.1,280.2 L569.1,283.2 L567.1,288.2 L563.1,290.2 L559.1,288.2 L560.1,282.2" fill="none" stroke="#8fa0e8" stroke-width="0.7" stroke-linejoin="round"/>
<path d="M574.1,284.2 L572.1,290.2 L569.1,295.2 L565.1,299.2 L562.1,304.2 L561.1,310.3" fill="none" stroke="#8fa0e8" stroke-width="0.7" stroke-linejoin="round"/>
<path d="M582.2,253.1 L579.2,260.1 L578.2,268.1 L576.2,276.2 L574.1,284.2" fill="none" stroke="#8fa0e8" stroke-width="0.7" stroke-linejoin="round"/>
<path d="M528,289.2 L534,288.2 L540.1,290.2 L546.1,288.2 L552.1,284.2" fill="none" stroke="#8fa0e8" stroke-width="0.7" stroke-linejoin="round"/>
<path d="M586.2,270.1 L591.2,274.2 L596.2,277.2" fill="none" stroke="#8fa0e8" stroke-width="0.7" stroke-linejoin="round"/>
<path d="M491.8,363.5 L496,361 L500.2,361.9 L504.3,364.4 L506.9,368.6 L509.4,366 L513.5,366.9" fill="none" stroke="#8fa0e8" stroke-width="0.7" stroke-linejoin="round"/>
<path d="M496,361 L495.2,366 L497.7,370.2 L501.8,371.9 L504.3,368.6 L504.3,364.4" fill="none" stroke="#8fa0e8" stroke-width="0.7" stroke-linejoin="round"/>
<path d="M490.1,370.2 L495.2,373.6 L500.2,375.2 L501.8,371.9" fill="none" stroke="#8fa0e8" stroke-width="0.7" stroke-linejoin="round"/>
<path d="M500.2,375.2 L503.5,380.3 L502.7,385.3 L505.2,389.9" fill="none" stroke="#8fa0e8" stroke-width="0.7" stroke-linejoin="round"/>
<path d="M488.5,380.3 L493.5,381.1 L498.5,383.6 L502.7,385.3" fill="none" stroke="#8fa0e8" stroke-width="0.7" stroke-linejoin="round"/>
<path d="M260.3,176.3 L256.5,182.6 L255.3,191.4 L258.3,196.2 L263.3,200.2 L267.3,205.2 L271.3,210.2 L276.3,212.2 L278.3,216.2 L277.9,221.4 L280.4,229 L285.4,235.2 L290.4,237.7 L295.4,241.5 L300.4,243 L307.5,243.9 L315,246.4 L321.3,251.4 L326.3,256.4 L331.3,261.4 L335.1,267.7 L330.1,274 L328.8,279 L335.1,280.2 L342.6,277.7 L348.9,274 L353.9,268.9 L361.4,265.7 L367.7,266.4 L371.4,271.4 L375.2,272.6" fill="none" stroke="#828c86" stroke-width="1.6" stroke-linejoin="round"/>
<path d="M375,272.6 L380,271.8 L385,270.1 L391.7,269.3 L397.6,268.4 L400.9,263.4 L402.6,257.6 L404.3,251.7 L405.9,246.7 L411,243.4 L416,240 L418,236.5" fill="none" stroke="#828c86" stroke-width="1.6" stroke-linejoin="round"/>
<path d="M425.9,156.7 L425.1,162.5 L425.9,166.7 L430.1,168.4 L434.3,171.7 L435.1,177.6 L432.6,182.6 L429.3,178.4 L425.9,176.7 L420.9,177.6 L418.4,180.9 L420.1,185.9 L420.9,190.9 L424.3,194.3 L429.3,196.8 L434.3,196 L437.6,195.1 L436.8,199.3 L432.6,201 L426.8,201.8 L421.8,202.6 L417.6,203.5 L415.1,206.8 L414.2,211 L417.6,212.7 L421.8,214.3 L425.9,216 L430.1,218.5 L433.5,221.9 L430.9,225.2 L425.9,226 L422.6,228.6 L419.2,231.9 L417.6,235.2 L418.1,236.6" fill="none" stroke="#828c86" stroke-width="1.6" stroke-linejoin="round"/>
<path d="M456,174.2 L460.2,178.4 L462.7,183.4 L464.4,188.4 L469.4,191.8 L475.2,193.5 L481.1,193.8 L486.9,194.3 L487.8,199.3 L486.9,205.2 L485.3,211 L486.1,216 L488.6,221 L491.1,226 L494.5,230.2 L497.8,234.4 L501.1,238.6 L505.3,243.6 L510,248.6 L510.1,250.3" fill="none" stroke="#828c86" stroke-width="1.6" stroke-linejoin="round"/>
<path d="M556.5,175.1 L557.7,182.6 L560.2,191.4 L555.2,197.6 L550.2,203.9 L547.7,211.4 L545.2,218.9 L546.4,225.2 L543.9,230.2" fill="none" stroke="#828c86" stroke-width="1.6" stroke-linejoin="round"/>
<path d="M510.1,250.3 L511.3,245.3 L515.1,239 L521.4,236.5 L528.9,234 L536.4,231.5 L543.9,230.2" fill="none" stroke="#828c86" stroke-width="1.6" stroke-linejoin="round"/>
<path d="M543.9,230.2 L551.4,234 L560.2,236.5 L566.5,240.2 L569,245.3" fill="none" stroke="#828c86" stroke-width="1.6" stroke-linejoin="round"/>
<path d="M569,245.3 L575.3,241.5 L582.8,236.5 L590.3,232.7 L595.3,229 L599.1,222.7 L600.3,216.4 L602.8,210.2 L605.3,203.9 L606.6,195" fill="none" stroke="#828c86" stroke-width="1.6" stroke-linejoin="round"/>
<path d="M569,245.3 L565.2,250.3 L561.5,256.5 L557.7,261.6 L555.2,267.8" fill="none" stroke="#828c86" stroke-width="1.6" stroke-linejoin="round"/>
<path d="M555.2,267.8 L550.2,270.3 L545.2,274.1 L540.2,276.6 L536.4,280.4 L532.6,285.4 L528.9,289.1 L526.4,292.9" fill="none" stroke="#828c86" stroke-width="1.6" stroke-linejoin="round"/>
<path d="M555.2,267.8 L557.7,275.3 L562.7,280.4 L569,282.9 L575.3,279.1 L580.3,282.9 L584,289.1 L590.3,286.6 L595.3,281.6 L597.8,276.6" fill="none" stroke="#828c86" stroke-width="1.6" stroke-linejoin="round"/>
<path d="M510.1,250.3 L508.8,257.8 L505.1,264.1 L502.6,270.3 L506.3,275.3 L510.1,280.4 L515.1,285.4 L520.1,287.9 L526.4,291.6" fill="none" stroke="#828c86" stroke-width="1.6" stroke-linejoin="round"/>
<path d="M420.1,235.8 L421.8,241.7 L423.5,247.5 L426,252.6 L430.2,255.9 L433.5,260.1 L434.3,264.3 L441,268 L448.6,270.1 L456.9,271.8 L463.6,274.3 L468.6,277.6 L472,280.1 L477,283.5" fill="none" stroke="#828c86" stroke-width="1.6" stroke-linejoin="round"/>
<path d="M433.5,221.9 L438,226 L444,231 L450.2,236.7 L453.6,241.7 L456.9,246.7 L461.1,251.7 L465.3,256.7 L468.6,261.8 L472,266.8 L475.3,271.8 L478.6,276.8 L481.2,280.1" fill="none" stroke="#828c86" stroke-width="1.6" stroke-linejoin="round"/>
<path d="M481.2,280.1 L486,276 L491,272 L496,269 L502.6,270.3" fill="none" stroke="#828c86" stroke-width="1.6" stroke-linejoin="round"/>
<path d="M477,283.5 L481.2,280.1" fill="none" stroke="#828c86" stroke-width="1.6" stroke-linejoin="round"/>
<path d="M477,283.5 L474,289 L470,293 L465,296 L460,299 L456,303 L452,308 L450,314" fill="none" stroke="#828c86" stroke-width="1.6" stroke-linejoin="round"/>
<path d="M370,285.2 L376.7,289.3 L385,293.5 L391.7,296.9 L398.4,298.5 L405.1,296.9 L411.8,294.3 L418.5,296 L425.2,298.5 L430.2,296.9 L436.9,294.3 L441.9,296.9 L445.2,301.9 L448.6,306.9 L450.2,311.9" fill="none" stroke="#828c86" stroke-width="1.6" stroke-linejoin="round"/>
<path d="M505.2,305.1 L500.2,308.1 L494.2,306.1 L488.2,302.1 L483.1,298.1 L479.1,293 L480.1,287 L481.2,280.1" fill="none" stroke="#828c86" stroke-width="1.6" stroke-linejoin="round"/>
<path d="M497.2,329.1 L492.2,327.1 L486.2,325.1 L480.1,323.1 L475.1,320.1 L470.1,318.1 L465.1,319.1 L460.1,322.1 L456.1,326.1 L452.1,330.1" fill="none" stroke="#828c86" stroke-width="1.6" stroke-linejoin="round"/>
<path d="M452.1,330.1 L448.1,336.2 L444,342.2 L449.1,347.2 L456.1,349.2 L464.1,350.2 L472.1,351.2 L478.1,353.2 L483.1,357.2 L487,354 L491,351" fill="none" stroke="#828c86" stroke-width="1.6" stroke-linejoin="round"/>
<path d="M483.1,357.2 L480.1,362.2 L477.1,367.2 L473.1,370.3 L468.1,371.3 L463.1,372.3 L460.1,376.3 L457.1,380.3" fill="none" stroke="#828c86" stroke-width="1.6" stroke-linejoin="round"/>
<path d="M477.1,367.2 L478.1,373.3 L480.1,379.3 L479.1,385.3 L481.1,391.3 L484.2,396.3 L483.1,401.9 L486,408 L488,414" fill="none" stroke="#828c86" stroke-width="1.6" stroke-linejoin="round"/>
<path d="M302.6,480.3 L307.6,475.3 L312.6,471.5 L318.9,466.5 L325.2,462.7 L332.7,461.5 L337.7,465.2 L338.9,472.8 L336.4,480.3 L333.9,487.8 L328.9,492.8 L326.4,500.3 L323.9,507.8 L321.4,515.4" fill="none" stroke="#828c86" stroke-width="1.6" stroke-linejoin="round"/>
<path d="M385.2,288.3 L383.5,295 L386,301.7 L388.5,306.7 L385.2,311.7 L381.8,316.8 L381,323.4 L381.8,328.5 L378.5,333.5 L375.1,338.5 L371.8,341.8 L370.1,346.8 L372.6,351.9 L375.1,356.9 L374.3,363.6 L372.6,370.2 L373.5,376.9 L372.6,385" fill="none" stroke="#828c86" stroke-width="1.6" stroke-linejoin="round"/>
<path d="M370.1,346.8 L375.1,343.5 L380.1,341 L386.8,339.3 L393.5,340.2 L400.2,338.5 L406.9,337.6 L413.6,339.3 L420.3,340.2 L425.3,338.5 L430.3,335.1 L434.5,331.8" fill="none" stroke="#828c86" stroke-width="1.6" stroke-linejoin="round"/>
<path d="M450.2,311.9 L445,315 L437,318.4 L434.5,325.1 L433.6,331.8 L430.3,335.1" fill="none" stroke="#828c86" stroke-width="1.6" stroke-linejoin="round"/>
<path d="M430.3,335.1 L432,341.8 L430.3,348.5 L432,355.2 L430.3,361.9 L427.8,368.6 L426.1,375.3 L423.6,380.3 L421.1,383.6" fill="none" stroke="#828c86" stroke-width="1.6" stroke-linejoin="round"/>
<path d="M115.1,100 L120.1,96.4 L126.1,95.6 L131.1,98 L135.1,100.4 L140.1,101.6 L147.2,100 L151.2,102 L152.2,108.1 L154.2,115.1 L159.2,120.1 L162.2,127.1 L166.2,133.1 L169.2,142.1 L173.2,149.2 L179.2,153.2 L186.3,155.2 L190.3,160.2 L196.3,163.8 L202.3,165.8 L208.3,169.2 L213.3,171.2 L216.8,172.2 L218.4,166.2 L221.4,160.2 L224,155.8 L226.4,157.2 L229.4,160.2 L234,161.2 L234,164.6 L236,168.2 L235.6,172.2 L238,175.2 L241,171.8 L245,170.2 L249,172.6 L252.1,177.2 L255.1,182.3 L259.1,181.3 L262.1,175.8 L266.1,176.6 L273.1,178.2 L279.1,176.2 L284.1,174.2 L287.1,170.2 L288.2,165.2 L285.1,159.2 L286.1,152.2 L285.1,147.2 L289.2,144.2 L294.2,145.2 L300.2,146.2 L305.2,147.2 L309.2,149.2 L311,145.8 L310.8,140.1 L312.8,135.1 L316.8,131.7 L320.2,127.1 L323.4,130.1 L323.4,135.1 L320.6,140.1 L317.2,143.1 L315,145.8 L318.2,148.6 L320.2,151.2 L325.3,149.2 L330.3,146.2 L334.3,144.2 L338.3,140.1 L343.3,137.1 L348.3,135.1 L349.3,131.1 L345.3,127.1 L343.3,122.1 L340.3,117.1 L337.3,112.1 L335.3,108.1 L340.3,107 L346.3,105 L350.3,102 L354.3,101 L359.3,99 L364.4,95 L368.4,93 L368.1,93.1 L372.5,90.1 L377.2,94.1 L381.2,97.1 L383.8,102.1 L384.2,108.1 L385.2,113.1 L389.2,117.1 L394.2,119.1 L399.2,117.1 L402.2,118.1 L404.2,121.1 L409.2,123.1 L415.3,124.2 L420.3,123.7 L426.3,122.5 L431.3,124.2 L434.2,129.1 L436.2,134.1 L439.2,138.1 L441.8,142.5 L443.2,148.2 L444.2,153.2 L445.2,158.2 L442.2,161.2 L440.2,164.2 L443.2,167.2 L447.2,170.2 L452.2,172.6 L457.2,175.2 L462.2,176.2 L467.2,175.8 L472.3,177.2 L477.3,176.2 L481.3,178.2 L485.3,175.2 L489.3,174.2 L493.3,172.2 L495.3,169.2 L493.3,165.2 L495.3,161.8 L498.3,163.2 L500.3,167.2 L502.3,171.2 L506.4,172.2 L510.4,169.2 L515.4,167.2 L519.4,165.8 L522,165.2 L522,165.7 L526,167.1 L530,171.1 L535,173.7 L540.1,175.2 L545.1,177.2 L550.1,175.2 L555.1,174.2 L559.1,171.7 L564.1,172.5 L570.1,172.5 L575.1,172.5 L578.2,177.2 L579.2,182.2 L582.2,186.2 L586.2,185.2 L591.2,181.8 L595.2,184.2 L598.2,188.2 L603.2,189.2 L607.2,191.2 L611.2,194.2 L615.3,198.2 L620.3,200.2 L624.3,198.2 L629.3,197.2 L634.3,195.8 L640.3,195.8 L645.3,195.8 L647.3,198.6 L645.3,202.2 L643.3,206.2 L640.3,209.2 L638.3,212.3 L642.3,216.3 L646.3,220.3 L648.8,224.3 L648.8,224 L647.3,228 L643.3,231 L638.3,233 L633.3,236 L631.3,241.1 L629.3,246.1 L626.3,250.1 L624.3,255.1 L622.3,260.1 L621.3,265.1 L616.3,269.1 L610.2,271.1 L604.2,270.1 L599.2,271.1 L595.2,274.2 L597.2,279.2 L594.2,284.2 L590.2,288.2 L586.2,292.2 L584.2,296.2 L580.2,300.2 L576.2,304.2 L572.1,308.2 L567.1,311.3 L562.1,312.3 L559.1,310.3 L557.1,305.2 L555.1,300.2 L550.1,299.2 L544.1,300.2 L539,301.2 L535,302.2 L531,299.2 L528,295.2 L526,291.2 L526.3,292.4 L521.3,294 L516.2,295 L512.2,298.1 L508.2,301.1 L505.2,305.1 L506.2,309.1 L510.2,312.1 L512.2,317.1 L509.2,321.1 L505.2,325.1 L501.2,328.1 L497.2,329.1 L493.2,332.1 L491.2,337.2 L494.2,340.2 L497.2,345.2 L500.2,349.2 L505.2,350.2 L509.2,350.2 L511.2,354.2 L512.2,359.2 L513.2,364.2 L518.2,368.2 L523.3,366.2 L528.3,367.2 L533.3,370.3 L537.3,374.3 L537.3,374.1 L539.3,380.1 L541.3,386.1 L542.7,391.1 L538.3,389.1 L533.3,386.1 L529.3,382.1 L524.3,380.5 L520.3,383.1 L516.3,384.1 L512.3,385.1 L511.3,390.1 L513.3,396.1 L516.3,401.1 L517.3,405.2 L521.3,409.2 L525.3,410.2 L529.3,408.2 L534.3,409.2 L538.3,413.2 L540.3,419.2 L541.3,424.2 L538.3,428.2 L532.3,429.2 L526.3,430.2 L520.3,430.2 L514.3,429.2 L509.2,430.2 L506.2,433.2 L502.2,431.2 L497.2,429.2 L492.2,430.2 L489.2,431.2 L487.2,427.2 L486.2,422.2 L488.2,418.2 L486.2,414.2 L482.2,412.2 L478.2,414.2 L475.2,413.2 L473.1,416.2 L470.1,419.2 L465.1,421.2 L460.1,423.2 L455.1,424.6 L451.1,423.2 L448.1,420.2 L445.1,417.2 L441.1,414.2 L440.1,410.2 L443.1,406.2 L445.1,401.1 L444.1,397.1 L441.1,393.1 L439.1,390.1 L438.1,387.1 L434,385.1 L429,384.1 L424,383.1 L420,382.1 L426.4,383.6 L419.4,384.4 L417.4,389.1 L418.4,394.1 L419.4,400.1 L415.3,403.1 L410.3,406.1 L405.3,409.1 L401.3,412.1 L399.3,415.1 L402.3,418.1 L401.3,422.1 L398.3,426.2 L394.3,430.2 L389.3,434.2 L384.3,439.2 L379.2,443.2 L375.2,447.2 L372.2,451.2 L371.2,456.2 L372.2,462.3 L373.2,468.3 L373.2,474.3 L375.2,480.3 L377.2,486.3 L378.2,491.9 L374,497.2 L371.4,498.2 L367.4,501.3 L362.4,504.3 L358.4,505.3 L354.3,502.3 L349.3,503.3 L344.3,506.3 L339.3,509.3 L334.3,511.3 L329.3,513.3 L324.3,514.3 L320.3,515.3 L317.2,512.3 L314.2,508.3 L311.2,505.3 L308.2,501.3 L305.2,497.2 L303.2,492.2 L302.2,486.2 L301.2,481.2 L298.2,479.2 L295.2,474.2 L291.2,470.2 L287.2,466.2 L285.2,461.1 L282.1,457.1 L280.1,451.1 L277.1,446.1 L273.1,440.1 L269.1,435.1 L266.1,430.1 L263.1,425 L259.1,422 L254.1,424 L249.1,425 L245,427 L243,422 L239,418 L234,416 L230,412 L231.2,407.2 L235.2,405.2 L238.2,402.1 L236.2,398.1 L232.2,394.1 L229.2,390.1 L225.2,386.1 L221.1,382.1 L217.1,378.1 L214.1,374.1 L211.1,377.1 L207.1,382.1 L203.1,386.1 L200.1,390.1 L201.1,396.1 L201.1,402.1 L200.1,408.2 L196.1,403.1 L192.1,398.1 L189.1,393.1 L188.1,387.1 L186,380.1 L185,372.1 L185,364 L185,357 L186.1,362.2 L187.1,355.2 L186.1,349.2 L184.1,343.1 L182.1,337.1 L180.1,330.1 L181.1,323.1 L182.1,316.1 L183.1,309.1 L181.1,302 L180.1,296 L178.1,290 L177.2,287.3 L176.2,281.3 L176.2,275.2 L173.2,270.2 L170.2,266.2 L169.2,261.2 L166.2,257.2 L162.2,253.2 L161.2,248.2 L163.2,244.2 L168.2,245.2 L172.2,242.1 L169.2,238.1 L165.2,234.1 L161.2,229.1 L157.2,224.1 L153.1,219.1 L152.2,211.9 L149.2,208.3 L145.2,204.3 L142.5,198.3 L140.1,192.3 L135.1,189.3 L129.1,187.3 L122.1,184.3 L116.1,182.3 L110.1,179.2 L105,175.2 L102,171.2 L99,165.2 L100,161.2 L105,157.2 L106,151.2 L110.1,146.2 L113.1,141.1 L117.1,137.1 L112.1,134.1 L107,130.1 L102.4,127.1 L101,120.1 L100,115.1 L103,112.5 L110.1,110.1 L113.7,107Z" fill="none" stroke="#526652" stroke-width="1.9" stroke-linejoin="round"/>
<path d="M81.4,55.5 V571.5 M130.6,55.5 V571.5 M179.7,55.5 V571.5 M228.8,55.5 V571.5 M278.0,55.5 V571.5 M327.1,55.5 V571.5 M376.3,55.5 V571.5 M425.5,55.5 V571.5 M474.6,55.5 V571.5 M523.8,55.5 V571.5 M572.9,55.5 V571.5 M622.0,55.5 V571.5 M671.2,55.5 V571.5 M45.5,519.6 H708.5 M45.5,468.0 H708.5 M45.5,416.5 H708.5 M45.5,364.9 H708.5 M45.5,313.3 H708.5 M45.5,261.7 H708.5 M45.5,210.1 H708.5 M45.5,158.6 H708.5 M45.5,107.0 H708.5" fill="none" stroke="#444" stroke-opacity="0.22" stroke-width="0.7" stroke-dasharray="2.2,1.6"/>
<rect x="45.5" y="55.5" width="663.0" height="516.0" fill="none" stroke="#222" stroke-width="1"/>
<path d="M81.4,571.5 v4 M130.6,571.5 v4 M179.7,571.5 v4 M228.8,571.5 v4 M278.0,571.5 v4 M327.1,571.5 v4 M376.3,571.5 v4 M425.5,571.5 v4 M474.6,571.5 v4 M523.8,571.5 v4 M572.9,571.5 v4 M622.0,571.5 v4 M671.2,571.5 v4 M45.5,571.2 h-4 M45.5,519.6 h-4 M45.5,468.0 h-4 M45.5,416.5 h-4 M45.5,364.9 h-4 M45.5,313.3 h-4 M45.5,261.7 h-4 M45.5,210.1 h-4 M45.5,158.6 h-4 M45.5,107.0 h-4 M45.5,55.4 h-4" fill="none" stroke="#222" stroke-width="0.8"/>
<g font-family="'Liberation Sans','Noto Sans CJK SC',sans-serif" font-size="12" fill="#222">
<text x="81.4" y="588.4" text-anchor="middle">97°E</text>
<text x="130.6" y="588.4" text-anchor="middle">98°E</text>
<text x="179.7" y="588.4" text-anchor="middle">99°E</text>
<text x="228.8" y="588.4" text-anchor="middle">100°E</text>
<text x="278.0" y="588.4" text-anchor="middle">101°E</text>
<text x="327.1" y="588.4" text-anchor="middle">102°E</text>
<text x="376.3" y="588.4" text-anchor="middle">103°E</text>
<text x="425.5" y="588.4" text-anchor="middle">104°E</text>
<text x="474.6" y="588.4" text-anchor="middle">105°E</text>
<text x="523.8" y="588.4" text-anchor="middle">106°E</text>
<text x="572.9" y="588.4" text-anchor="middle">107°E</text>
<text x="622.0" y="588.4" text-anchor="middle">108°E</text>
<text x="671.2" y="588.4" text-anchor="middle">109°E</text>
<text x="37.5" y="574.9" text-anchor="end">25°N</text>
<text x="37.5" y="523.3" text-anchor="end">26°N</text>
<text x="37.5" y="471.7" text-anchor="end">27°N</text>
<text x="37.5" y="420.2" text-anchor="end">28°N</text>
<text x="37.5" y="368.6" text-anchor="end">29°N</text>
<text x="37.5" y="317.0" text-anchor="end">30°N</text>
<text x="37.5" y="265.4" text-anchor="end">31°N</text>
<text x="37.5" y="213.8" text-anchor="end">32°N</text>
<text x="37.5" y="162.3" text-anchor="end">33°N</text>
<text x="37.5" y="110.7" text-anchor="end">34°N</text>
<text x="37.5" y="59.1" text-anchor="end">35°N</text>
</g>
<g font-family="'Liberation Sans','Noto Sans CJK SC',sans-serif" font-size="11.2" fill="#16201a">
<text x="299" y="198.5">阿坝藏族羌族自治州</text>
<text x="186.2" y="269.5">甘孜藏族自治州</text>
<text x="285.8" y="445.5">凉山彝族自治州</text>
<text x="289.2" y="494.5">攀枝花市</text>
<text x="491.5" y="210.7">广元市</text>
<text x="559.7" y="222.3">巴中市</text>
<text x="444.6" y="228.3">绵阳市</text>
<text x="433.8" y="267.5">德阳市</text>
<text x="405.5" y="286">成都市</text>
<text x="517" y="265.8">南充市</text>
<text x="484" y="291">遂宁市</text>
<text x="458" y="316.8">资阳市</text>
<text x="451.4" y="345.2">内江市</text>
<text x="441.7" y="362">自贡市</text>
<text x="343" y="331">雅安市</text>
<text x="392.7" y="331">眉山市</text>
<text x="388.2" y="368">乐山市</text>
<text x="432.8" y="400">宜宾市</text>
<text x="495.2" y="403">泸州市</text>
<text x="548" y="305" clip-path="url(#prov)" fill-opacity="0.55">广安市</text>
</g>
<text x="58" y="556" font-family="'Liberation Sans','Noto Sans CJK SC',sans-serif" font-size="15" fill="#222">四川省气象台制作</text>
<rect x="612.5" y="386.5" width="88" height="165" fill="#fff" fill-opacity="0.8" stroke="#222" stroke-width="1"/>
<text x="618.5" y="405.5" font-family="'Liberation Sans','Noto Sans CJK SC',sans-serif" font-size="13.5" fill="#222">图例</text>
<g font-family="'Liberation Sans','Noto Sans CJK SC',sans-serif" font-size="11" fill="#222">
<rect x="616.7" y="414.6" width="32" height="15.7" fill="#ffffff"/>
<text x="651" y="426.6">无降水</text>
<rect x="616.7" y="433.1" width="32" height="15.7" fill="#a6f28e"/>
<text x="651" y="445.1">小雨</text>
<rect x="616.7" y="451.5" width="32" height="15.7" fill="#3db93d"/>
<text x="651" y="463.5">中雨</text>
<rect x="616.7" y="470.0" width="32" height="15.7" fill="#63b8f9"/>
<text x="651" y="482.0">大雨</text>
<rect x="616.7" y="488.4" width="32" height="15.7" fill="#0000d8"/>
<text x="651" y="500.4">暴雨</text>
<rect x="616.7" y="506.9" width="32" height="15.7" fill="#f305ee"/>
<text x="651" y="518.9">大暴雨</text>
<rect x="616.7" y="525.3" width="32" height="15.7" fill="#810040"/>
<text x="651" y="537.3">特大暴雨</text>
</g>
</svg>
<div class="t1">四川省降水落区预报图</div>
<div class="t2">2021年08月25日20时-2021年08月26日08时</div>
</body></html>
